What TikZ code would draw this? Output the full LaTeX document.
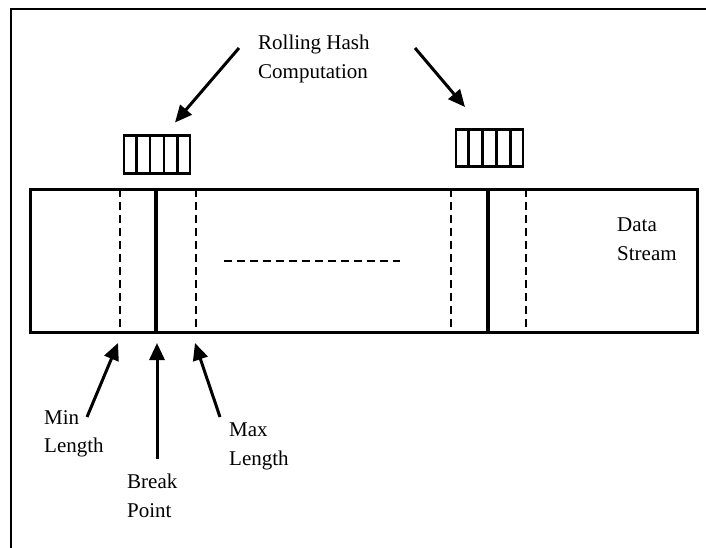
\documentclass[tikz,border=0pt]{standalone}
\usepackage{fontspec}
\setmainfont{Liberation Serif}
\usetikzlibrary{arrows.meta,calc}

\tikzset{
  frameline/.style={line width=2.4pt},
  streambox/.style={draw, line width=3pt, inner sep=0pt},
  winbox/.style={draw, line width=2.4pt, inner sep=0pt},
  cutline/.style={line width=3.6pt},
  limitline/.style={line width=1.4pt, dash pattern=on 8pt off 5pt},
  label/.style={inner sep=0pt, anchor=north west, align=left,
                font=\fontsize{21}{28.5}\selectfont},
  ptr/.style={line width=3pt, -{Triangle[length=17pt,width=15pt]}}
}

\begin{document}
\begin{tikzpicture}[x=1pt,y=-1pt]
\useasboundingbox (0,0) rectangle (706,548);

% outer frame (only top and left edges fall inside the page)
\draw[frameline] (11,560) -- (11,9) -- (720,9);

% the data stream
\node[streambox, minimum width=667pt, minimum height=143pt] (stream) at (363.5,260.5) {};
\draw[limitline] (120,189) -- (120,332);
\draw[cutline]   (156,189) -- (156,332);
\draw[limitline] (196,189) -- (196,332);
\draw[limitline] (451,189) -- (451,332);
\draw[cutline]   (488,189) -- (488,332);
\draw[limitline] (526,189) -- (526,332);
\draw[limitline] (224,261) -- (400,261);

% rolling hash windows, five cells each
\node[winbox, minimum width=66pt, minimum height=38pt] (win1) at (157,154.6) {};
\node[winbox, minimum width=67pt, minimum height=37pt] (win2) at (489.5,148.2) {};
\foreach \w in {win1,win2}{
  \foreach \i in {1,...,4}{
    \draw[line width=2.4pt] ($(\w.north west)!\i/5!(\w.north east)$) -- ($(\w.south west)!\i/5!(\w.south east)$);
  }
}

% labels
\node[label] (hash)  at (258,35)  {Rolling Hash\\Computation};
\node[label] (data)  at (617,218) {Data\\Stream};
\node[label] (minl)  at (44,410)  {Min\\Length};
\node[label] (brk)   at (127,474) {Break\\Point};
\node[label] (maxl)  at (229,423) {Max\\Length};

% arrow ends
\coordinate (hashL) at (239,48);
\coordinate (hashR) at (415,48);
\coordinate (tipL)  at (175,122.5);
\coordinate (tipR)  at (465,107);
\coordinate (minT)  at (87,417);
\coordinate (brkT)  at (157,459);
\coordinate (maxT)  at (220,417);
\coordinate (minH)  at (118,343);
\coordinate (brkH)  at (157,343);
\coordinate (maxH)  at (195,343);

\draw[ptr] (hashL) -- (tipL);
\draw[ptr] (hashR) -- (tipR);
\draw[ptr] (minT) -- (minH);
\draw[ptr] (brkT) -- (brkH);
\draw[ptr] (maxT) -- (maxH);
\end{tikzpicture}
\end{document}
